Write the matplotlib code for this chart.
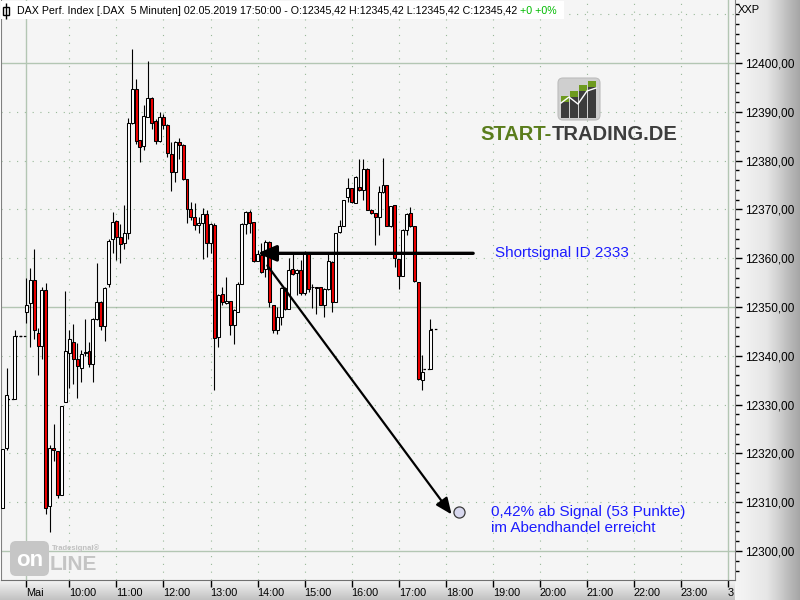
import matplotlib
matplotlib.use("Agg")
import matplotlib.pyplot as plt
import numpy as np
from matplotlib.patches import FancyBboxPatch, Rectangle
from matplotlib.ticker import FuncFormatter, MultipleLocator, FixedLocator

plt.rcParams['font.family'] = ['Liberation Sans', 'DejaVu Sans']

# letzte Kerzen vom 30.04. (vor dem Feiertag)
pre_open = [12308.9, 12321.2, 12331.1, 12331.1, 12344.1, 12344.1]
pre_high = [12321.0, 12337.4, 12331.1, 12345.3, 12344.1, 12344.1]
pre_low = [12308.8, 12320.7, 12331.1, 12331.1, 12344.1, 12344.1]
pre_close = [12321.0, 12332.0, 12331.1, 12344.1, 12344.1, 12344.1]

# 02.05.2019, 5-Minuten-Kerzen
may_open = [12348.9, 12350.8, 12355.5, 12344.6, 12342.0, 12353.5, 12309.2, 12321.2, 12320.4, 12311.5,
            12330.5, 12340.5, 12342.8, 12339.3, 12337.6, 12340.5, 12340.9, 12338.3, 12347.5, 12351.0,
            12346.2, 12354.8, 12363.9, 12367.6, 12364.3, 12363.2, 12365.1, 12387.8, 12394.6, 12384.2,
            12382.9, 12389.0, 12392.8, 12388.1, 12384.1, 12389.0, 12387.2, 12381.3, 12377.7, 12383.9,
            12383.1, 12376.2, 12370.0, 12368.4, 12366.9, 12367.3, 12369.0, 12363.2, 12366.9, 12343.9,
            12352.6, 12350.9, 12351.3, 12346.4, 12349.0, 12354.8, 12367.1, 12369.5, 12367.5, 12359.5,
            12360.7, 12357.7, 12363.4, 12350.5, 12345.3, 12347.9, 12353.8, 12349.5, 12357.7, 12356.9,
            12357.6, 12352.9, 12361.2, 12354.0, 12354.0, 12354.0, 12350.5, 12353.7, 12359.3, 12351.1,
            12365.3, 12366.6, 12372.6, 12374.3, 12371.4, 12374.5, 12374.0, 12378.3, 12369.9, 12369.2,
            12368.4, 12373.5, 12375.0, 12366.5, 12370.9, 12359.8, 12356.4, 12365.8, 12369.2, 12366.5,
            12355.1, 12335.0, 12337.3, 12337.3, 12345.42]
may_high = [12355.9, 12357.9, 12361.8, 12345.6, 12354.2, 12354.9, 12321.7, 12326.0, 12320.5, 12329.8,
            12353.3, 12345.3, 12346.5, 12342.6, 12341.2, 12347.5, 12342.9, 12347.7, 12359.1, 12351.2,
            12354.2, 12363.9, 12369.5, 12367.8, 12367.0, 12370.9, 12388.7, 12402.9, 12396.7, 12384.3,
            12391.3, 12400.4, 12393.0, 12388.5, 12390.0, 12389.5, 12387.5, 12383.9, 12384.0, 12384.6,
            12383.3, 12376.3, 12371.5, 12371.3, 12368.5, 12370.2, 12369.9, 12367.3, 12367.3, 12352.7,
            12354.0, 12356.1, 12351.3, 12349.5, 12355.1, 12367.3, 12369.7, 12369.9, 12367.5, 12361.7,
            12363.1, 12363.7, 12363.5, 12350.5, 12350.1, 12354.0, 12354.0, 12360.0, 12361.0, 12357.8,
            12359.6, 12361.5, 12361.3, 12354.8, 12354.1, 12354.1, 12353.8, 12361.3, 12359.4, 12365.2,
            12367.8, 12372.0, 12376.4, 12374.4, 12376.8, 12380.3, 12380.3, 12378.4, 12370.0, 12369.3,
            12374.7, 12380.5, 12375.1, 12370.8, 12371.0, 12359.9, 12365.9, 12369.2, 12370.4, 12366.6,
            12355.2, 12340.2, 12337.3, 12347.5, 12345.42]
may_low = [12346.7, 12341.9, 12343.4, 12336.1, 12339.3, 12307.5, 12303.8, 12318.5, 12310.8, 12311.5,
           12330.5, 12333.5, 12334.2, 12331.3, 12334.6, 12340.0, 12337.8, 12334.7, 12347.4, 12345.3,
           12343.1, 12354.2, 12361.0, 12359.6, 12359.1, 12361.9, 12363.9, 12387.6, 12383.3, 12379.8,
           12382.2, 12388.9, 12386.4, 12383.3, 12383.9, 12386.5, 12380.8, 12373.8, 12375.7, 12380.3,
           12376.0, 12367.3, 12367.8, 12365.8, 12365.2, 12359.8, 12360.3, 12361.1, 12332.9, 12341.9,
           12350.5, 12350.6, 12344.2, 12342.4, 12349.0, 12354.8, 12364.9, 12365.1, 12359.3, 12359.5,
           12357.0, 12356.1, 12350.1, 12344.6, 12344.5, 12346.3, 12349.3, 12349.5, 12356.5, 12352.5,
           12352.5, 12352.5, 12353.0, 12349.7, 12348.5, 12350.4, 12348.0, 12353.5, 12349.0, 12351.0,
           12365.2, 12366.5, 12371.6, 12371.4, 12371.3, 12373.8, 12371.9, 12369.8, 12369.0, 12362.8,
           12364.8, 12373.4, 12366.5, 12366.4, 12358.3, 12353.6, 12356.3, 12364.8, 12366.4, 12355.2,
           12335.1, 12332.9, 12337.3, 12337.3, 12345.42]
may_close = [12350.5, 12355.5, 12345.3, 12342.0, 12353.5, 12308.9, 12321.2, 12320.7, 12311.5, 12329.8,
             12340.9, 12343.4, 12339.3, 12337.9, 12340.4, 12340.6, 12338.3, 12347.5, 12351.0, 12346.2,
             12353.9, 12363.5, 12367.5, 12364.4, 12363.0, 12365.1, 12387.8, 12394.6, 12384.1, 12382.7,
             12389.1, 12392.8, 12387.8, 12384.1, 12388.9, 12387.2, 12381.5, 12377.7, 12383.9, 12383.1,
             12376.2, 12370.0, 12368.4, 12366.9, 12367.3, 12369.0, 12363.2, 12367.1, 12343.7, 12352.5,
             12351.0, 12351.3, 12346.4, 12349.4, 12354.8, 12367.1, 12369.5, 12367.3, 12359.5, 12360.8,
             12357.2, 12363.4, 12351.0, 12345.3, 12347.9, 12353.8, 12349.5, 12357.6, 12356.8, 12357.6,
             12352.9, 12361.3, 12353.7, 12354.1, 12353.9, 12350.5, 12353.7, 12359.4, 12351.0, 12365.1,
             12366.6, 12371.9, 12374.3, 12371.6, 12376.7, 12374.0, 12378.3, 12369.9, 12369.2, 12368.4,
             12373.5, 12375.0, 12366.6, 12370.7, 12360.0, 12356.4, 12365.8, 12369.1, 12366.5, 12355.3,
             12335.2, 12336.7, 12337.3, 12345.3, 12345.42]

time_labels = ['Mai', '10:00', '11:00', '12:00', '13:00', '14:00', '15:00', '16:00', '17:00',
               '18:00', '19:00', '20:00', '21:00', '22:00', '23:00', '3']

signal_bar = 59
signal_price = 12361
target_bar = 110.5
target_price = 12308

opens = np.array(pre_open + may_open)
highs = np.array(pre_high + may_high)
lows = np.array(pre_low + may_low)
closes = np.array(pre_close + may_close)
pos = np.concatenate([np.arange(-len(pre_open), 0), np.arange(len(may_open))])

# Tick-Positionen in Balken (12 Balken pro Stunde, 10:00 = Balken 11)
tick_pos = [0] + [11 + 12 * i for i in range(14)] + [179]

fig = plt.figure(figsize=(8, 6), dpi=100)

# Hintergrund mit Verlauf fuer Achsenbereiche
bg = fig.add_axes([0, 0, 1, 1], zorder=0)
bg.axis('off')
grad_h = np.linspace(0, 1, 64).reshape(1, -1)
bg.imshow(grad_h, extent=(735, 800, 600, 0), cmap=plt.matplotlib.colors.LinearSegmentedColormap.from_list(
    'g1', ['#f6f6f6', '#e6e6e6', '#a6a6a6']), aspect='auto')
grad_v = np.linspace(0, 1, 20).reshape(-1, 1)
bg.imshow(grad_v, extent=(0, 735, 600, 580), cmap=plt.matplotlib.colors.LinearSegmentedColormap.from_list(
    'g2', ['#f4f4f4', '#c2c2c2']), aspect='auto')
bg.set_xlim(0, 800)
bg.set_ylim(600, 0)

ax = fig.add_axes([1 / 800, 20 / 600, 734 / 800, 580 / 600], zorder=2)
ax.set_facecolor('#f5f5f5')
ax.set_xlim(-6.45, 180.8)
ax.set_ylim(12294.06, 12412.91)

# Gitter
for lvl in range(12300, 12420, 10):
    if lvl % 50 == 0:
        ax.axhline(lvl, color='#b3c6b3', lw=1, zorder=0.5)
    else:
        ax.axhline(lvl, color='#98b898', lw=0.8, ls=(0, (1, 6)), zorder=0.5)
for i, tp in enumerate(tick_pos):
    if i == 0 or i == len(tick_pos) - 1:
        ax.axvline(tp, color='#b3c6b3', lw=1, zorder=0.5)
    else:
        ax.axvline(tp, color='#98b898', lw=0.8, ls=(0, (1, 6)), zorder=0.5)

# Kerzen
flat = highs == lows
up = closes >= opens
ax.vlines(pos[~flat], lows[~flat], highs[~flat], color='black', lw=0.8, zorder=3)
body_lo = np.minimum(opens, closes)
body_h = np.maximum(np.abs(closes - opens), 0.2)
cols = np.where(up, 'white', '#ee0000')
ax.bar(pos[~flat], body_h[~flat], bottom=body_lo[~flat], width=0.75, color=cols[~flat],
       edgecolor='black', linewidth=0.75, zorder=4)
ax.hlines(closes[flat], pos[flat] - 0.9, pos[flat] + 0.9, color='black', lw=0.9,
          linestyles=(0, (2, 1.5)), zorder=3)

# Signal
ax.annotate('', xy=(signal_bar, signal_price), xytext=(signal_bar + 55, signal_price),
            arrowprops=dict(arrowstyle='-|>,head_length=0.7,head_width=0.3', lw=2.4, color='black',
                            shrinkA=0, shrinkB=0, mutation_scale=16), zorder=6)
ax.annotate('', xy=(target_bar - 2, target_price - 0.5), xytext=(signal_bar + 2.5, signal_price - 2.5),
            arrowprops=dict(arrowstyle='-|>,head_length=0.7,head_width=0.3', lw=1.6, color='black',
                            shrinkA=0, shrinkB=0, mutation_scale=14), zorder=6)
ax.plot([target_bar], [target_price], 'o', ms=8, mfc='#d8d8ee', mec='#3a3a3a', mew=0.9, zorder=6)

ax.text(signal_bar + 60.5, signal_price, 'Shortsignal ID 2333', color='#1c1cff', fontsize=11,
        va='center', ha='left', zorder=6)
ax.text(target_bar + 8, target_price - 1.7, '0,42% ab Signal (53 Punkte)\nim Abendhandel erreicht',
        color='#1c1cff', fontsize=11, va='center', ha='left', linespacing=1.15, zorder=6)

# Achsen
ax.spines['top'].set_visible(False)
ax.spines['left'].set_color('#808080')
ax.spines['right'].set_color('#808080')
ax.spines['bottom'].set_color('#707070')

ax.yaxis.tick_right()
ax.yaxis.set_major_locator(FixedLocator(list(range(12300, 12410, 10))))
ax.yaxis.set_minor_locator(MultipleLocator(2))
ax.yaxis.set_major_formatter(FuncFormatter(lambda v, p: f'{v:.2f}'.replace('.', ',')))
ax.tick_params(axis='y', which='major', length=5, width=1, pad=2, labelsize=8.5, direction='out')
ax.tick_params(axis='y', which='minor', length=3, width=1, direction='out')

ax.set_xticks(tick_pos)
ax.set_xticklabels(time_labels)
ax.tick_params(axis='x', length=5, width=1, pad=1, labelsize=7.8, direction='out')
for lbl in ax.get_xticklabels():
    lbl.set_horizontalalignment('left')

# Dekoration (Pixel-Koordinaten)
deco = fig.add_axes([0, 0, 1, 1], zorder=5)
deco.set_xlim(0, 800)
deco.set_ylim(600, 0)
deco.axis('off')

deco.add_patch(Rectangle((1, 1), 563, 18, fc='white', ec='none'))
deco.vlines(6, 3, 19, color='black', lw=1)
deco.add_patch(Rectangle((3, 7), 6, 8, fc='white', ec='black', lw=1))
t1 = deco.text(17, 11, 'DAX Perf. Index [.DAX  5 Minuten] 02.05.2019 17:50:00 - O:12345,42 '
               'H:12345,42 L:12345,42 C:12345,42 ', fontsize=7.7, va='center', ha='left')
deco.annotate('+0 +0%', xy=(1, 0.5), xycoords=t1, fontsize=7.7, color='#00bb00', va='center', ha='left')
deco.text(738, 10, 'XXP', fontsize=8, va='center', ha='left')

# Logo START-TRADING.DE
deco.add_patch(FancyBboxPatch((558, 78), 42, 42, boxstyle='round,pad=0,rounding_size=5',
                              fc='#cfcfcf', ec='#bdbdbd', lw=0.8))
for bx, top in [(561, 96), (570, 91), (579, 85), (588, 81)]:
    deco.add_patch(Rectangle((bx, top + 6), 8, 118 - top - 6, fc='#3c3c3c', ec='none'))
    deco.add_patch(Rectangle((bx, top), 8, 6, fc='#6e9a1e', ec='none'))
deco.plot([561, 569, 578, 587, 596], [103, 97, 104, 91, 88], color='white', lw=1)
t2 = deco.text(480, 135, 'START-', fontsize=14.5, fontweight='bold', color='#5a7d1c',
               va='center', ha='left')
deco.annotate('TRADING.DE', xy=(1, 0.5), xycoords=t2, fontsize=14.5, fontweight='bold',
              color='#3d3d3d', va='center', ha='left')

# Wasserzeichen Tradesignal online
deco.add_patch(FancyBboxPatch((10, 541), 39, 35, boxstyle='round,pad=0,rounding_size=6',
                              fc='#c6c6c6', ec='none'))
deco.text(29.5, 561, 'on', fontsize=16, fontweight='bold', color='white', va='center', ha='center')
deco.text(50, 564, 'LINE', fontsize=15, fontweight='bold', color='#c4c4c4', va='center', ha='left')
deco.text(52, 548, 'Tradesignal®', fontsize=5.5, fontweight='bold', color='#c0c0c0',
          va='center', ha='left')

fig.savefig('out.png', dpi=100)
